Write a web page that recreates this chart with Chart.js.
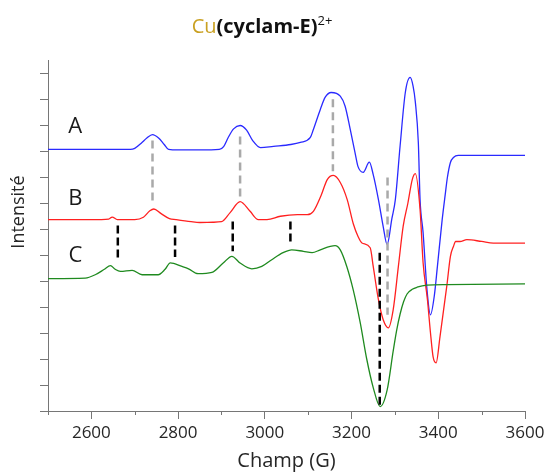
<!DOCTYPE html>
<html>
<head>
<meta charset="utf-8">
<script src="https://cdn.jsdelivr.net/npm/chart.js@4"></script>
<style>
  body { margin: 0; background: #ffffff; }
  canvas { display: block; }
</style>
</head>
<body>
<canvas id="epr" width="545" height="473"></canvas>
<script>
// EPR spectra of Cu(cyclam-E)2+ : three stacked traces, field in gauss
const spectrumA = [
  [2500, 10.06], [2600, 10.06], [2690, 10.06], [2700, 10.1], [2715, 10.3], [2728, 10.5],
  [2741, 10.63], [2755, 10.5], [2768, 10.25], [2778, 10.06], [2800, 10.04], [2850, 10.04],
  [2895, 10.06], [2905, 10.17], [2915, 10.5], [2928, 10.85], [2943, 10.98], [2958, 10.8],
  [2972, 10.4], [2990, 10.13], [3020, 10.18], [3060, 10.25], [3082, 10.33], [3105, 10.52],
  [3112, 10.83], [3128, 11.6], [3139, 12.06], [3153, 12.25], [3174, 12.11], [3185, 11.73],
  [3197, 10.83], [3208, 9.94], [3215, 9.4], [3227, 9.18], [3241, 9.57], [3250, 9.09],
  [3262, 8.13], [3273, 7.09], [3282, 6.4], [3293, 7.4], [3301, 8.13], [3312, 10.2],
  [3324, 12.25], [3335, 12.83], [3342, 12.49], [3347, 11.9], [3354, 10.33], [3358, 8.13],
  [3365, 6.86], [3374, 4.66], [3382, 3.7], [3391, 4.45], [3398, 5.56], [3409, 7.36],
  [3416, 8.32], [3421, 8.98], [3428, 9.56], [3435, 9.75], [3446, 9.83], [3600, 9.83]
];
const spectrumB = [
  [2500, 7.36], [2600, 7.36], [2640, 7.38], [2648, 7.46], [2660, 7.36], [2700, 7.36],
  [2720, 7.45], [2735, 7.7], [2744, 7.77], [2760, 7.6], [2780, 7.4], [2795, 7.36],
  [2830, 7.28], [2850, 7.25], [2880, 7.26], [2900, 7.28], [2920, 7.63], [2943, 8.05],
  [2966, 7.68], [2985, 7.36], [3005, 7.36], [3036, 7.49], [3075, 7.55], [3098, 7.55],
  [3112, 7.68], [3130, 8.3], [3144, 8.9], [3158, 9.06], [3174, 8.79], [3190, 8.13],
  [3204, 7.2], [3215, 6.71], [3224, 6.46], [3243, 6.28], [3250, 5.56], [3262, 4.28],
  [3273, 3.51], [3285, 3.2], [3296, 3.89], [3308, 5.56], [3319, 7.1], [3330, 8.0],
  [3340, 8.9], [3347, 9.13], [3358, 7.75], [3365, 5.7], [3375, 4.28], [3382, 3.01],
  [3388, 2.09], [3395, 1.85], [3404, 2.86], [3420, 4.85], [3428, 5.95], [3435, 6.33],
  [3440, 6.52], [3450, 6.52], [3466, 6.59], [3500, 6.52], [3527, 6.46], [3600, 6.46]
];
const spectrumC = [
  [2500, 5.09], [2586, 5.11], [2610, 5.25], [2630, 5.45], [2644, 5.59], [2655, 5.45],
  [2667, 5.37], [2694, 5.41], [2717, 5.24], [2754, 5.24], [2770, 5.45], [2782, 5.7],
  [2809, 5.56], [2824, 5.47], [2846, 5.28], [2878, 5.33], [2904, 5.69], [2924, 5.95],
  [2943, 5.69], [2970, 5.47], [2993, 5.56], [3016, 5.82], [3042, 6.09], [3062, 6.2],
  [3089, 6.14], [3109, 6.09], [3128, 6.2], [3151, 6.33], [3162, 6.36], [3174, 6.2],
  [3189, 5.56], [3204, 4.65], [3220, 3.4], [3235, 2.0], [3250, 0.9], [3266, 0.17],
  [3282, 0.8], [3296, 2.3], [3304, 3.1], [3312, 3.73], [3320, 4.2], [3328, 4.5],
  [3340, 4.68], [3351, 4.76], [3374, 4.84], [3420, 4.86], [3600, 4.89]
];

// dashed guide lines: field, top, bottom
const grayField = [2741, 2943, 3157, 3283];
const grayTop = [10.4, 10.56, 11.99, 8.98];
const grayBottom = [7.95, 8.25, 9.22, 3.7];
const blackField = [2661, 2793, 2926, 3059, 3265];
const blackTop = [7.13, 7.13, 7.29, 7.29, 6.09];
const blackBottom = [5.75, 5.92, 6.14, 6.46, 0.17];

// trace labels
const traceNames = ['A', 'B', 'C'];
const traceLabelField = [2563, 2563, 2563];
const traceLabelY = [10.94, 8.17, 5.97];

const xMajorTicks = [2600, 2800, 3000, 3200, 3400, 3600];
const xMinorTicks = [2500, 2700, 2900, 3100, 3300, 3500];
const yTicks = [0, 1, 2, 3, 4, 5, 6, 7, 8, 9, 10, 11, 12, 13];

const axisColor = '#767676';
const font = '"Open Sans", "DejaVu Sans", sans-serif';

const toPoints = arr => arr.map(p => ({ x: p[0], y: p[1] }));

function guide(field, top, bottom, color, dash) {
  return field.map((f, i) => ({
    data: [{ x: f, y: top[i] }, { x: f, y: bottom[i] }],
    borderColor: color,
    borderWidth: 2.5,
    borderDash: dash,
    pointRadius: 0,
    order: 0
  }));
}

function trace(arr, color, order) {
  return {
    data: toPoints(arr),
    borderColor: color,
    borderWidth: 1.3,
    pointRadius: 0,
    cubicInterpolationMode: 'monotone',
    order: order
  };
}

const extras = {
  id: 'extras',
  afterDraw(chart) {
    const { ctx, scales: { x, y }, chartArea } = chart;
    ctx.save();

    // minor x ticks
    ctx.strokeStyle = axisColor;
    ctx.lineWidth = 1;
    xMinorTicks.forEach(v => {
      const px = Math.round(x.getPixelForValue(v)) + 0.5;
      ctx.beginPath();
      ctx.moveTo(px, chartArea.bottom);
      ctx.lineTo(px, chartArea.bottom + 4);
      ctx.stroke();
    });

    // trace letters
    ctx.fillStyle = '#1a1a1a';
    ctx.font = '22px ' + font;
    ctx.textAlign = 'center';
    ctx.textBaseline = 'middle';
    traceNames.forEach((n, i) => {
      ctx.fillText(n, x.getPixelForValue(traceLabelField[i]), y.getPixelForValue(traceLabelY[i]));
    });

    // y axis title
    ctx.save();
    ctx.translate(19, 212);
    ctx.rotate(-Math.PI / 2);
    ctx.font = '18px ' + font;
    ctx.fillStyle = '#262626';
    ctx.fillText('Intensité', 0, 0);
    ctx.restore();

    // title with mixed styles
    const parts = [
      { t: 'Cu', f: '20px ' + font, c: '#c9a021', dy: 0 },
      { t: '(cyclam-E)', f: 'bold 20px ' + font, c: '#111111', dy: 0 },
      { t: '2+', f: '13px ' + font, c: '#111111', dy: -8 }
    ];
    let total = 0;
    parts.forEach(p => { ctx.font = p.f; p.w = ctx.measureText(p.t).width; total += p.w; });
    let cx = 262 - total / 2;
    ctx.textAlign = 'left';
    ctx.textBaseline = 'alphabetic';
    parts.forEach(p => {
      ctx.font = p.f;
      ctx.fillStyle = p.c;
      ctx.fillText(p.t, cx, 33 + p.dy);
      cx += p.w;
    });
    ctx.restore();
  }
};

new Chart(document.getElementById('epr'), {
  type: 'line',
  data: {
    datasets: [
      ...guide(grayField, grayTop, grayBottom, '#a9a9a9', [8, 5]),
      ...guide(blackField, blackTop, blackBottom, '#000000', [8, 4]),
      trace(spectrumC, '#1f8a1f', 1),
      trace(spectrumB, '#ff2020', 2),
      trace(spectrumA, '#2a2aff', 3)
    ]
  },
  options: {
    responsive: false,
    animation: false,
    layout: { padding: { top: 60, right: 20, left: 0, bottom: 0 } },
    plugins: { legend: { display: false }, tooltip: { enabled: false }, title: { display: false } },
    scales: {
      x: {
        type: 'linear',
        min: 2500,
        max: 3600,
        afterBuildTicks: s => { s.ticks = xMajorTicks.map(v => ({ value: v })); },
        afterFit: s => { s.height = 62; s.paddingRight = 0; s.paddingLeft = 0; },
        ticks: { color: '#262626', font: { family: font, size: 17 }, padding: 4, maxRotation: 0, callback: v => String(v) },
        grid: { drawOnChartArea: false, drawTicks: true, tickLength: 8, color: axisColor },
        border: { color: axisColor },
        title: { display: true, text: 'Champ (G)', color: '#262626', font: { family: font, size: 20 }, padding: { top: 0, bottom: 0 } }
      },
      y: {
        min: 0,
        max: 13.5,
        afterBuildTicks: s => { s.ticks = yTicks.map(v => ({ value: v })); },
        afterFit: s => { s.width = 48; s.paddingTop = 0; s.paddingBottom = 0; },
        ticks: { display: false },
        grid: { drawOnChartArea: false, drawTicks: true, tickLength: 8, color: axisColor },
        border: { color: axisColor }
      }
    }
  },
  plugins: [extras]
});
</script>
</body>
</html>
